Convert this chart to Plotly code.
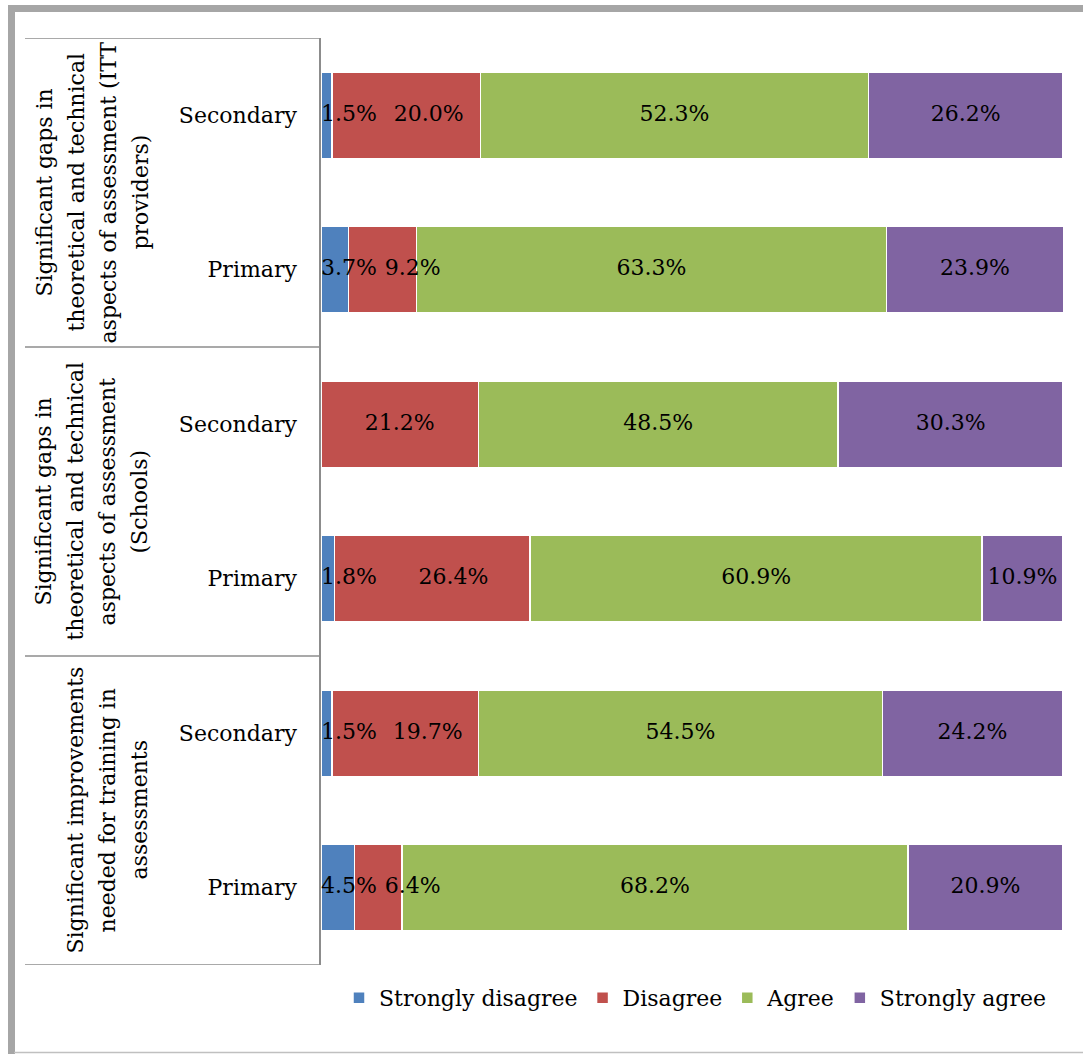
import numpy as np
import plotly.graph_objects as go

# ---- data ----
categories = ["ITT|Secondary", "ITT|Primary", "Schools|Secondary", "Schools|Primary",
              "Impr|Secondary", "Impr|Primary"]
tick_labels = ["Secondary", "Primary", "Secondary", "Primary", "Secondary", "Primary"]
group_lines = [
    ["Significant gaps in", "theoretical and technical", "aspects of assessment (ITT", "providers)"],
    ["Significant gaps in", "theoretical and technical", "aspects of assessment", "(Schools)"],
    ["Significant improvements", "needed for training in", "assessments"],
]
series_names = ["Strongly disagree", "Disagree", "Agree", "Strongly agree"]
strongly_disagree = [1.5, 3.7, 0.0, 1.8, 1.5, 4.5]
disagree = [20.0, 9.2, 21.2, 26.4, 19.7, 6.4]
agree = [52.3, 63.3, 48.5, 60.9, 54.5, 68.2]
strongly_agree = [26.2, 23.9, 30.3, 10.9, 24.2, 20.9]
colors = ["#4F81BD", "#C0504D", "#9BBB59", "#8064A2"]

W, H = 1083, 1054
L, R, T, B = 321, 20, 38, 89
pw, ph = W - L - R, H - T - B
FS = 22


def px_x(p):
    return (p - L) / pw


def px_y(p):
    return (H - B - p) / ph


def text_w(s):
    # approximate rendered width (px) of a label in DejaVu Serif
    w = 0.0
    for ch in s:
        w += {".": 0.318, "%": 0.95}.get(ch, 0.636) * FS
    return w


FONT = "DejaVu Serif"
series = [strongly_disagree, disagree, agree, strongly_agree]
fig = go.Figure()
for name, vals, col in zip(series_names, series, colors):
    fig.add_trace(go.Bar(
        y=categories, x=vals, orientation="h", name=name,
        marker=dict(color=col, line=dict(color="white", width=1.5)),
        hoverinfo="x+name",
    ))

# data labels drawn on top of all bars, nudged like the original to avoid collisions
arr = np.array(series)
cum = np.cumsum(arr, axis=0)
starts = cum - arr
ppu = pw / 100.0  # pixels per data unit
lx, ly, lt = [], [], []
for c in range(arr.shape[1]):
    shift = 0.0
    prev_right = None
    for s in range(arr.shape[0]):
        v = arr[s, c]
        if v <= 0:
            continue
        txt = f"{v:.1f}%"
        w = text_w(txt)
        cen = (starts[s, c] + v / 2) * ppu
        if s == 0:
            left = max(cen - w / 2, 0.0)
            shift = left + w / 2 - cen
        elif s == 1:
            left = cen + shift - w / 2
            if prev_right is not None and left < prev_right + 8:
                left = prev_right + 8
        else:
            left = cen - w / 2
        prev_right = left + w
        lx.append((left + w / 2) / ppu)
        ly.append(categories[c])
        lt.append(txt)
fig.add_trace(go.Scatter(x=lx, y=ly, text=lt, mode="text", textposition="middle center",
                         textfont=dict(family=FONT, size=FS, color="black"),
                         showlegend=False, cliponaxis=False, hoverinfo="skip"))

shapes = []
for yv in [-0.5, 1.5, 3.5, 5.5]:
    shapes.append(dict(type="line", xref="paper", yref="y", x0=px_x(25), x1=0, y0=yv, y1=yv,
                       line=dict(color="#8c8c8c", width=1.5)))
shapes.append(dict(type="line", xref="paper", yref="paper", x0=px_x(11.5), x1=px_x(11.5),
                   y0=px_y(5), y1=px_y(1054), line=dict(color="#a6a6a6", width=7)))
shapes.append(dict(type="line", xref="paper", yref="paper", x0=px_x(8), x1=px_x(1090),
                   y0=px_y(8.5), y1=px_y(8.5), line=dict(color="#a6a6a6", width=7)))
shapes.append(dict(type="line", xref="paper", yref="paper", x0=px_x(14), x1=px_x(1090),
                   y0=px_y(1052.5), y1=px_y(1052.5), line=dict(color="#c0c0c0", width=1.5)))

annotations = []
group_center = [92, 91, 107]
line_gap = 32
for g, (lines, gc) in enumerate(zip(group_lines, group_center)):
    n = len(lines)
    for i, txt in enumerate(lines):
        xc = gc + (i - (n - 1) / 2) * line_gap
        annotations.append(dict(text=txt, xref="paper", yref="y", x=px_x(xc), y=2 * g + 0.5,
                                textangle=-90, showarrow=False, xanchor="center", yanchor="middle",
                                font=dict(family=FONT, size=FS, color="black")))

fig.update_layout(
    width=W, height=H,
    margin=dict(l=L, r=R, t=T, b=B),
    barmode="stack", bargap=0.443,
    plot_bgcolor="white", paper_bgcolor="white",
    font=dict(family=FONT, size=FS, color="black"),
    showlegend=True,
    legend=dict(orientation="h", x=px_x(695), y=px_y(998), xanchor="center", yanchor="middle",
                font=dict(family=FONT, size=FS, color="black"), traceorder="normal"),
    shapes=shapes, annotations=annotations,
)
fig.update_xaxes(range=[0, 100], visible=False, showgrid=False)
fig.update_yaxes(type="category", categoryorder="array", categoryarray=categories,
                 tickvals=categories, ticktext=tick_labels, range=[5.5, -0.5],
                 showline=True, linecolor="#8c8c8c", linewidth=1.5, ticks="",
                 ticklabelstandoff=18, showgrid=False,
                 tickfont=dict(family=FONT, size=FS, color="black"))

fig.write_html("out.html")
